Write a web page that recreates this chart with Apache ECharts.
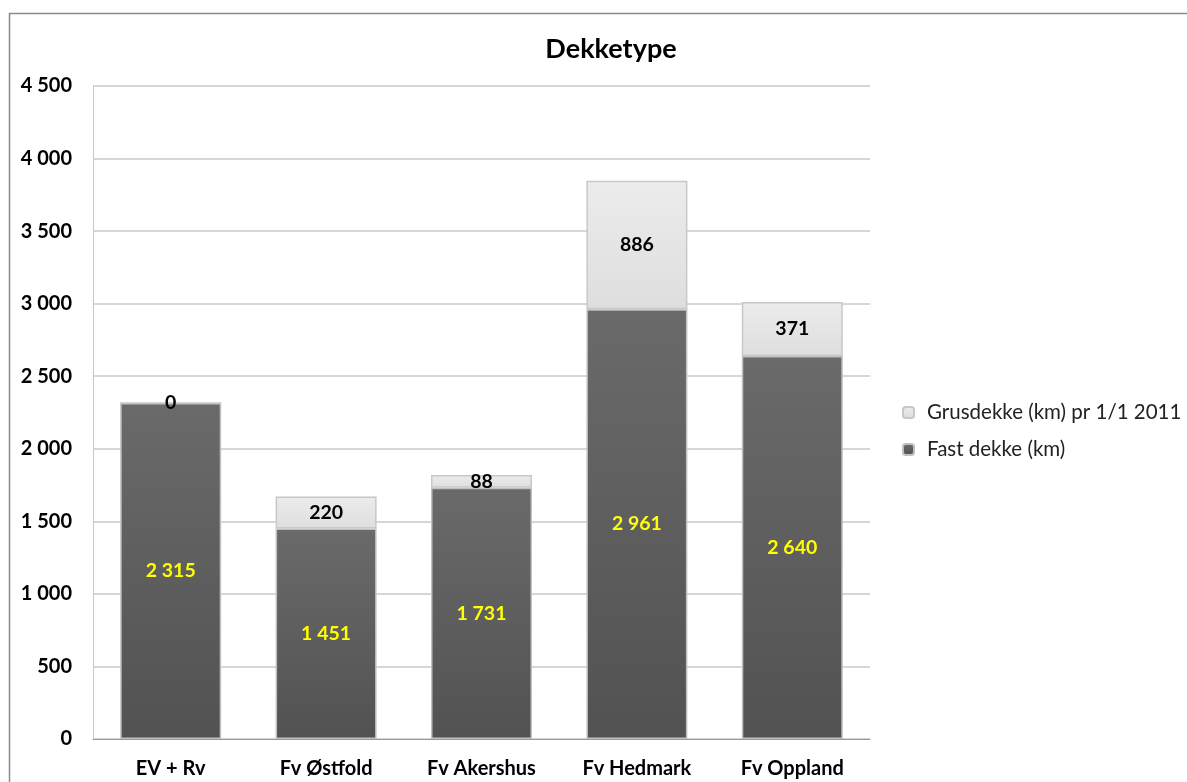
<!DOCTYPE html>
<html>
<head>
<meta charset="utf-8">
<script src="https://cdn.jsdelivr.net/npm/echarts@6/dist/echarts.min.js"></script>
<style>
  html, body { margin: 0; padding: 0; background: #fff; }
  #chart { width: 1187px; height: 782px; }
</style>
</head>
<body>
<div id="chart"></div>
<script>
// 类目与数据
const categories = ['EV + Rv', 'Fv Østfold', 'Fv Akershus', 'Fv Hedmark', 'Fv Oppland'];
const fastDekke = [2315, 1451, 1731, 2961, 2640];
const grusDekke = [0, 220, 88, 886, 371];
const seriesNames = ['Fast dekke (km)', 'Grusdekke (km) pr 1/1 2011'];

// 千位空格分隔
function fmt(v) {
    return String(v).replace(/\B(?=(\d{3})+(?!\d))/g, ' ');
}

const font = 'Lato, "Open Sans", sans-serif';

let chart = echarts.init(document.getElementById('chart'));

let option = {
    animation: false,
    backgroundColor: '#fff',
    textStyle: { fontFamily: font },
    title: {
        text: 'Dekketype',
        left: 606,
        top: 31,
        textAlign: 'center',
        textStyle: { fontSize: 27, fontWeight: 'bold', color: '#000', fontFamily: font }
    },
    graphic: [{
        type: 'rect',
        shape: { x: 9.5, y: 13.5, width: 1300, height: 900 },
        style: { fill: null, stroke: '#8a8a8a', lineWidth: 1.5 },
        silent: true
    }],
    legend: {
        orient: 'vertical',
        left: 897,
        top: 397,
        itemWidth: 11,
        itemHeight: 11,
        itemGap: 16,
        data: [seriesNames[1], seriesNames[0]],
        textStyle: { fontSize: 20.5, color: '#222', fontFamily: font, padding: [0, 0, 0, 8] }
    },
    grid: { left: 93, top: 86, width: 777, height: 653, containLabel: false },
    xAxis: {
        type: 'category',
        data: categories,
        axisLine: { lineStyle: { color: '#999' } },
        axisTick: { show: false },
        axisLabel: { fontSize: 20, fontWeight: 'bold', color: '#000', margin: 20, fontFamily: font }
    },
    yAxis: {
        type: 'value',
        min: 0,
        max: 4500,
        interval: 500,
        axisLine: { show: true, lineStyle: { color: '#c8c8c8' } },
        axisTick: { show: false },
        splitLine: { lineStyle: { color: '#c8c8c8', width: 1.5 } },
        axisLabel: { fontSize: 20, fontWeight: 'bold', color: '#000', margin: 21, formatter: fmt, fontFamily: font }
    },
    series: [
        {
            name: seriesNames[0],
            type: 'bar',
            stack: 'total',
            barWidth: 101,
            data: fastDekke,
            itemStyle: {
                color: new echarts.graphic.LinearGradient(0, 0, 0, 1, [
                    { offset: 0, color: '#6a6a6a' },
                    { offset: 1, color: '#525252' }
                ]),
                borderColor: '#c0c0c0',
                borderWidth: 1.5
            },
            label: {
                show: true,
                position: 'inside',
                formatter: p => fmt(p.value),
                color: '#ffff00',
                fontSize: 19.5,
                fontWeight: 'bold',
                fontFamily: font
            }
        },
        {
            name: seriesNames[1],
            type: 'bar',
            stack: 'total',
            barWidth: 101,
            data: grusDekke,
            itemStyle: {
                color: new echarts.graphic.LinearGradient(0, 0, 0, 1, [
                    { offset: 0, color: '#ececec' },
                    { offset: 1, color: '#dedede' }
                ]),
                borderColor: '#c8c8c8',
                borderWidth: 1.5
            },
            label: {
                show: true,
                position: 'inside',
                formatter: p => fmt(p.value),
                color: '#000',
                fontSize: 19.5,
                fontWeight: 'bold',
                fontFamily: font
            }
        }
    ]
};

chart.setOption(option);
</script>
</body>
</html>
